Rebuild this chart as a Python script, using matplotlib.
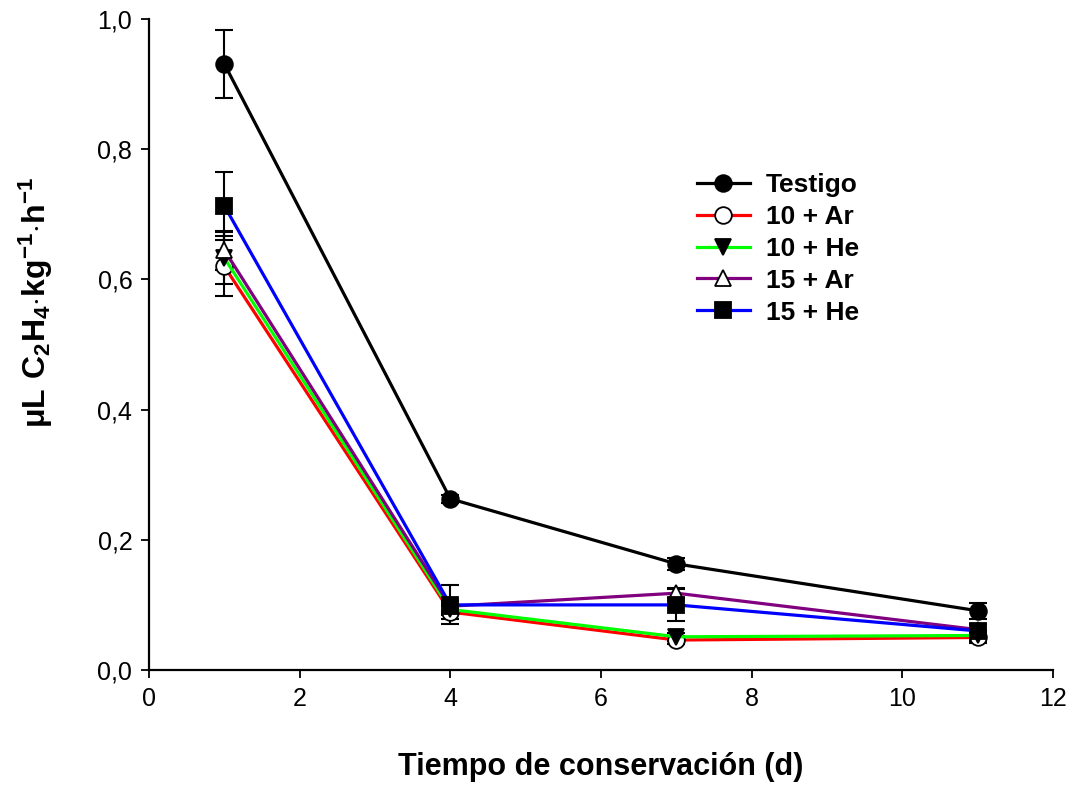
import matplotlib.pyplot as plt

plt.rcParams['font.family'] = ['Liberation Sans', 'DejaVu Sans']
plt.rcParams['mathtext.fontset'] = 'custom'
plt.rcParams['mathtext.rm'] = 'Liberation Sans'
plt.rcParams['mathtext.bf'] = 'Liberation Sans:bold'

# Days of storage
dias = [1, 4, 7, 11]

# Ethylene production (uL C2H4 kg-1 h-1) and standard errors
testigo = [0.931, 0.263, 0.163, 0.091]
testigo_err = [0.052, 0.006, 0.009, 0.012]

ar10 = [0.620, 0.089, 0.046, 0.050]
ar10_err = [0.046, 0.010, 0.006, 0.008]

he10 = [0.633, 0.093, 0.051, 0.053]
he10_err = [0.040, 0.008, 0.006, 0.008]

ar15 = [0.645, 0.098, 0.118, 0.062]
ar15_err = [0.030, 0.010, 0.008, 0.008]

he15 = [0.713, 0.100, 0.100, 0.060]
he15_err = [0.052, 0.030, 0.024, 0.010]

series = [
    ('Testigo', testigo, testigo_err, 'black', 'o', 'black'),
    ('10 + Ar', ar10, ar10_err, '#ff0000', 'o', 'white'),
    ('10 + He', he10, he10_err, '#00ff00', 'v', 'black'),
    ('15 + Ar', ar15, ar15_err, '#800080', '^', 'white'),
    ('15 + He', he15, he15_err, '#0000ff', 's', 'black'),
]

fig = plt.figure(figsize=(10.75, 7.85), dpi=100)
ax = fig.add_axes([0.1386, 0.1465, 0.841, 0.8293])

# error bars first, lines and markers on top
for name, y, err, col, mk, fc in series:
    ax.errorbar(dias, y, yerr=err, fmt='none', ecolor='black',
                elinewidth=1.5, capsize=6.5, capthick=1.5, zorder=2)

handles = []
for name, y, err, col, mk, fc in series:
    ms = 12 if mk != 's' else 11
    h, = ax.plot(dias, y, color=col, lw=2.3, marker=mk, markersize=ms,
                 markerfacecolor=fc, markeredgecolor='black',
                 markeredgewidth=1.3, label=name, zorder=3)
    handles.append(h)

ax.set_xlim(0, 12)
ax.set_ylim(0, 1.0)
ax.set_xticks(range(0, 13, 2))
ax.set_yticks([0, 0.2, 0.4, 0.6, 0.8, 1.0])
ax.set_yticklabels(['0,0', '0,2', '0,4', '0,6', '0,8', '1,0'])

for s in ['top', 'right']:
    ax.spines[s].set_visible(False)
for s in ['left', 'bottom']:
    ax.spines[s].set_linewidth(1.6)
ax.tick_params(direction='out', length=6, width=1.3, labelsize=18, pad=6)

ax.set_xlabel('Tiempo de conservación (d)', fontsize=22, fontweight='bold', labelpad=30)
ax.set_ylabel(r'$\mathbf{\mu L\ C_2H_4{\cdot}kg^{-1}{\cdot}h^{-1}}$', fontsize=23)
ax.yaxis.set_label_coords(-0.104, 0.565)

leg = ax.legend(handles=handles, loc='upper left', bbox_to_anchor=(0.58, 0.8),
                frameon=False, handlelength=2.0, handletextpad=0.6,
                labelspacing=0.3, prop={'weight': 'bold', 'size': 19})

fig.savefig('out.png', dpi=100)
